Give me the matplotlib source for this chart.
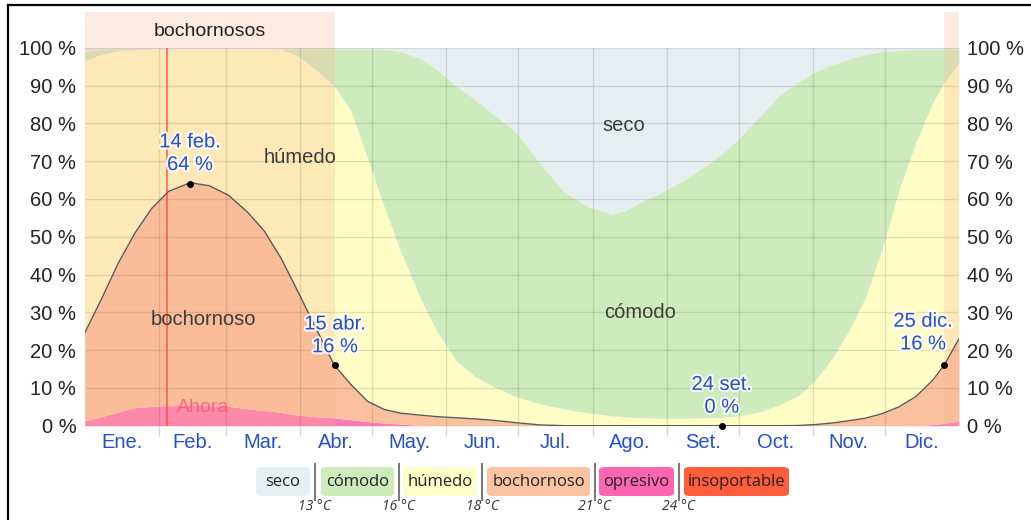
import matplotlib
matplotlib.use('Agg')
import matplotlib.pyplot as plt
import matplotlib.patheffects as pe
from matplotlib.lines import Line2D
from matplotlib.patches import FancyBboxPatch
import numpy as np

# Day of year sample points (0 = 1 Jan, 365 = 31 Dec)
days = [0, 7, 14, 21, 28, 35, 44, 52, 60, 68, 75, 82, 89, 96, 104, 111, 118,
        125, 132, 140, 147, 155, 163, 171, 180, 190, 200, 210, 220, 226, 233,
        240, 250, 260, 266, 273, 282, 290, 298, 305, 312, 319, 326, 333, 340,
        347, 354, 359, 365]

# cumulative tops of each humidity comfort band (%)
opresivo_top = [1.3, 2.4, 3.6, 4.8, 5.1, 5.3, 5.4, 5.3, 5.1, 4.5, 4.0, 3.5, 2.8,
                2.4, 2.1, 1.6, 1.1, 0.7, 0.4, 0.1, 0, 0, 0, 0, 0, 0, 0, 0, 0, 0,
                0, 0, 0, 0, 0, 0, 0, 0, 0, 0, 0, 0, 0, 0, 0, 0.1, 0.3, 0.6, 1.3]
bochornoso_top = [24.5, 33.5, 43.0, 51.0, 57.5, 62.0, 64.3, 63.5, 61.0, 56.5,
                  51.5, 44.3, 35.5, 26.5, 16.2, 11.0, 6.5, 4.3, 3.3, 2.8, 2.4,
                  2.1, 1.8, 1.4, 0.8, 0.2, 0, 0, 0, 0, 0, 0, 0, 0, 0, 0, 0, 0,
                  0.05, 0.3, 0.7, 1.3, 2.0, 3.2, 5.0, 7.7, 12.0, 16.2, 23.0]
humedo_top = [96.6, 98.3, 99.2, 99.5, 99.7, 99.7, 99.7, 99.7, 99.7, 99.7, 99.7,
              99.7, 97.8, 94.5, 90.0, 83.5, 71.0, 58.0, 46.0, 34.0, 25.0, 17.3,
              13.0, 10.2, 7.7, 5.8, 4.4, 3.4, 2.6, 2.3, 2.1, 2.0, 2.0, 2.1,
              2.2, 2.6, 3.7, 5.5, 8.0, 12.0, 17.8, 25.0, 34.0, 47.0, 62.5, 75.0,
              85.5, 91.0, 96.0]
comodo_top = [99.0, 99.5, 99.7, 99.7, 99.7, 99.7, 99.7, 99.7, 99.7, 99.7, 99.7,
              99.7, 99.7, 99.7, 99.7, 99.7, 99.7, 99.7, 99.0, 97.2, 94.3, 90.0,
              86.3, 82.3, 77.8, 69.5, 62.0, 58.0, 56.0, 57.0, 59.5, 61.5, 65.0,
              69.2, 72.0, 76.0, 82.0, 87.5, 91.0, 93.7, 95.5, 97.0, 98.3, 99.0,
              99.3, 99.6, 99.6, 99.7, 99.7]

month_starts = [31, 59, 90, 120, 151, 181, 212, 243, 273, 304, 334]
month_mids = [15.5, 45, 74.5, 105, 135.5, 166, 196.5, 227.5, 258, 288.5, 319, 349.5]
month_labels = ['Ene.', 'Feb.', 'Mar.', 'Abr.', 'May.', 'Jun.', 'Jul.', 'Ago.',
                'Set.', 'Oct.', 'Nov.', 'Dic.']

# muggy period (bochornosos) and "now" marker
muggy_periods = [(0, 104.5), (358.7, 365)]
now_day = 34.3

# highlighted points
ann_days = [44, 104.5, 266, 358.7]
ann_values = [64, 16, 0, 16]
ann_labels = ['14 feb.\n64 %', '15 abr.\n16 %', '24 set.\n0 %', '25 dic.\n16 %']

legend_labels = ['seco', 'cómodo', 'húmedo', 'bochornoso', 'opresivo', 'insoportable']
dew_points = ['13 °C', '16 °C', '18 °C', '21 °C', '24 °C']

c_seco = '#E6EEF1'
c_comodo = '#CDEBBC'
c_humedo = '#FFFCC6'
c_bochornoso = '#FBC09E'
c_opresivo = '#FF7AB5'
legend_colors = ['#E8EFF2', '#CDEBBB', '#FFFDC8', '#FCC3A2', '#FF66B2', '#FF5D3B']

plt.rcParams['font.family'] = ['Liberation Sans', 'DejaVu Sans']

W, H = 1031, 520
fig = plt.figure(figsize=(W / 100, H / 100), dpi=100)
ax = fig.add_axes([84.7 / W, 1 - 425.7 / H, (959 - 84.7) / W, (425.7 - 47.8) / H])

d = np.array(days)
zero = np.zeros(len(d))
ax.fill_between(d, zero, opresivo_top, color=c_opresivo, lw=0, zorder=1)
ax.fill_between(d, opresivo_top, bochornoso_top, color=c_bochornoso, lw=0, zorder=1)
ax.fill_between(d, bochornoso_top, humedo_top, color=c_humedo, lw=0, zorder=1)
ax.fill_between(d, humedo_top, comodo_top, color=c_comodo, lw=0, zorder=1)
ax.fill_between(d, comodo_top, 100, color=c_seco, lw=0, zorder=1)
ax.plot(d, bochornoso_top, color='#5a5a5a', lw=1.0, zorder=4)

# muggy period overlay, extending above the plot
for start, end in muggy_periods:
    ax.axvspan(start, end, ymin=0, ymax=1.094, color='#FBB58F', alpha=0.27,
               lw=0, clip_on=False, zorder=2)
ax.text(sum(muggy_periods[0]) / 2, 104.3, 'bochornosos', ha='center', va='center',
        fontsize=14, color='#222222')

# now line
ax.axvline(now_day, color='#FF4040', lw=1.1, alpha=0.85, zorder=3)
ax.text(now_day + 15, 4.9, 'Ahora', ha='center', va='center', fontsize=14,
        color='#FF4F78', alpha=0.8, zorder=5)

# axes and grid
ax.set_xlim(0, 365)
ax.set_ylim(0, 100)
ax.set_yticks(range(0, 101, 10))
ax.set_yticklabels([f'{v} %' for v in range(0, 101, 10)])
ax.set_xticks(month_starts)
ax.set_xticklabels([])
ax.set_xticks(month_mids, minor=True)
ax.set_xticklabels(month_labels, minor=True)
ax.grid(True, which='major', color='#000000', alpha=0.11, lw=1)
ax.set_axisbelow(False)
for s in ax.spines.values():
    s.set_visible(False)
ax.tick_params(axis='y', which='both', length=0, labelsize=14.5, labelcolor='#222222',
               labelright=True, pad=6)
ax.tick_params(axis='x', which='major', length=7, color='#d6d6d6', width=1)
ax.tick_params(axis='x', which='minor', length=0, labelsize=14.5,
               labelcolor='#2550C8', pad=5)

# region labels
lab_kw = dict(ha='center', va='center', fontsize=14.5, color='#3c3c3c', zorder=5)
ax.text(225, 79.5, 'seco', **lab_kw)
ax.text(232, 30, 'cómodo', **lab_kw)
ax.text(90, 71, 'húmedo', **lab_kw)
ax.text(49.5, 28, 'bochornoso', **lab_kw)

# highlighted points
halo = [pe.withStroke(linewidth=3, foreground='white', alpha=0.85)]
offsets = [(0, 7), (0, 6.5), (0, 6.5), (-15, 8.5)]
for day, val, lab, off in zip(ann_days, ann_values, ann_labels, offsets):
    ax.plot(day, val, 'o', color='black', ms=4, zorder=6, clip_on=False)
    ax.annotate(lab, (day, val), xytext=off, textcoords='offset points',
                ha='center', va='bottom', fontsize=14.5, color='#2550C8',
                linespacing=1.25, path_effects=halo, zorder=6)

# legend
box_px = [(256, 310), (321, 394), (403, 477), (487, 590), (599, 674), (684, 789)]
sep_px = [315, 399, 482, 595, 679]
y0, y1 = 1 - 496 / H, 1 - 467 / H
for (l, r), lab, col in zip(box_px, legend_labels, legend_colors):
    fig.add_artist(FancyBboxPatch((l / W, y0), (r - l) / W, y1 - y0,
                                  boxstyle='round,pad=0,rounding_size=0.006',
                                  transform=fig.transFigure, fc=col, ec='none'))
    fig.text((l + r) / 2 / W, (y0 + y1) / 2, lab, ha='center', va='center',
             fontsize=12, family='Open Sans', color='#222222')
for x, t in zip(sep_px, dew_points):
    fig.add_artist(Line2D([x / W, x / W], [1 - 500 / H, 1 - 464 / H],
                          transform=fig.transFigure, color='#7a7a7a', lw=1.5))
    fig.text(x / W, 1 - 507 / H, t, ha='center', va='center', fontsize=10,
             style='italic', family='Open Sans', color='#333333')

# screenshot frame
fig.add_artist(Line2D([8 / W, 1], [1 - 5 / H, 1 - 5 / H], transform=fig.transFigure,
                      color='black', lw=1.6))
fig.add_artist(Line2D([8 / W, 8 / W], [0, 1 - 5 / H], transform=fig.transFigure,
                      color='black', lw=1.6))

fig.savefig('out.png', dpi=100)
